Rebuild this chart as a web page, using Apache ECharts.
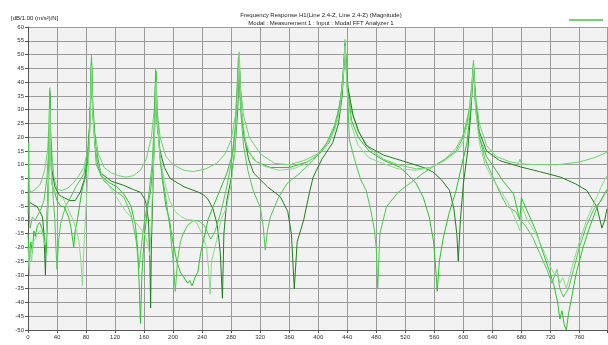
<!DOCTYPE html>
<html>
<head>
<meta charset="utf-8">
<script src="https://cdn.jsdelivr.net/npm/echarts@6/dist/echarts.min.js"></script>
<style>
  html, body { margin: 0; padding: 0; background: #fff; }
  #chart { width: 608px; height: 345px; }
</style>
</head>
<body>
<div id="chart"></div>
<script>
// axis ticks
const xTicks = [0, 40, 80, 120, 160, 200, 240, 280, 320, 360, 400, 440, 480, 520, 560, 600, 640, 680, 720, 760];
const yTicks = [60, 55, 50, 45, 40, 35, 30, 25, 20, 15, 10, 5, 0, -5, -10, -15, -20, -25, -30, -35, -40, -45, -50];

// [Hz, dB]
const curveA = [[0,2],[4,0],[10,1],[17,3],[23,8],[27,15],[29,25],[30,38],[31,25],[33,14],[36,5],[40,1],[47,0.7],[55,1.5],[63,3.5],[70,6],[77,9],[82,15],[85,25],[86.5,40],[87.5,50],[89,35],[92,22],[97,14],[105,9],[115,7],[125,6],[135,5.5],[145,6],[155,8],[163,12],[170,20],[174,30],[176,45],[178,30],[182,20],[190,13],[200,10],[215,8],[228,7.5],[245,8.5],[260,10.5],[272,14],[280,19],[286,28],[289,40],[291,51],[293,38],[297,28],[305,20],[320,14],[340,10.5],[360,10],[380,11.5],[400,14],[415,19],[425,25],[432,35],[435,45],[437,55.5],[440,40],[445,30],[455,22],[470,16],[490,12],[510,10],[535,8.5],[555,9],[575,12],[590,16],[600,21],[608,30],[612,40],[614,48],[617,35],[622,25],[632,17],[645,13],[665,11],[676,10.5],[678,12],[680,10.3],[700,10],[730,10],[760,11],[780,12.5],[798,14.5]];

const curveB = [[0,-3],[4,-4],[13,-5.3],[20,-9],[22,-15],[24,-30],[26,-10],[28,5],[29.5,20],[30,36],[31,20],[33,8],[37,2],[43,-1],[50,-2],[58,-3],[65,-3],[72,0],[78,5],[83,15],[86,30],[87.5,47],[89,30],[93,17],[100,7],[115,4],[132,2.5],[145,1],[155,0],[162,-3],[166,-10],[168,-25],[169,-42],[170,-20],[172,0],[174,20],[176,42],[178,25],[182,15],[188,9],[196,5],[215,2],[235,0],[242,-1],[248,-2.5],[255,-6],[261,-12],[265,-22],[268,-38.5],[270,-15],[274,-3],[280,5],[285,15],[289,30],[291,48],[294,30],[298,20],[304,12],[311,7],[330,2],[348,-1.7],[358,-7],[363,-15],[367,-35],[371,-18],[380,-10],[388,0],[393,5.5],[405,12],[420,18],[428,25],[433,35],[437,52],[441,38],[448,28],[456,22],[466,17],[490,13.5],[521,11],[545,9],[558,7.4],[570,4.5],[581,0.7],[587,-6],[591,-15],[593,-25],[596,-10],[600,3],[606,15],[610,28],[614,45],[617,32],[622,22],[632,15],[650,11.5],[679,9.2],[705,7.5],[734,5.5],[755,3],[770,0.7],[784,-5.3],[791,-13],[795,-10],[798,-6]];

const curveC = [[0,-15],[2,-25],[4,-18],[6,-22],[8,-14],[10,-16],[13,-12],[16,-11],[19,-13],[22,-16],[25,-22],[27,-10],[29,10],[30,35],[31,15],[33,3],[36,0.7],[40,-3],[45,-5],[50,-5.3],[56,-9],[59,-12.6],[62,-18],[63,-20],[65,-14],[68,-10],[74,0],[80,6.8],[84,15],[86.5,35],[87.5,48],[89,32],[92,18],[96,10],[101,5.7],[112,3.5],[123,1.9],[133,-1],[142,-5],[148,-12],[151,-20],[153.5,-35],[155,-47.6],[157,-30],[160,-17.4],[165,-5],[169,0.7],[173,12],[175.5,30],[176.5,44],[178,28],[182,12],[186,3],[190,-5],[195,-10],[199,-17],[205,-25],[210,-29],[215,-31],[220,-33],[223,-32],[226,-34],[230,-31],[234,-29],[238,-22],[242,-17.4],[248,-10],[255,-5.3],[265,1],[274,6.9],[282,14],[287,25],[290,48],[293,32],[297,22],[303,15],[315,11],[334,9],[360,9],[385,11],[400,13.5],[415,18],[426,26],[433,38],[437,54],[440,38],[446,26],[455,20],[470,15],[490,11.6],[512,9.2],[525,6],[535,3.2],[545,-2],[553,-9],[559,-18],[562,-28],[564,-36],[567,-25],[572,-17],[580,-8],[590,0.7],[598,10],[605,18],[610,30],[614,46],[617,30],[622,20],[632,13],[642,9.2],[655,4],[669,-0.5],[676,-8],[678,-10],[680,-2],[690,-8],[700,-14],[710,-22],[718,-28],[725,-34],[730,-40],[733,-46],[736,-43],[739,-48],[742,-50],[745,-44],[748,-40],[755,-30],[765,-20],[775,-12],[785,-5],[798,1]];

const curveD = [[0,-8],[1,18],[2,-10],[3,-13],[6,-9],[10,-10],[14,-8],[18,-6],[22,-3],[26,5],[28.5,15],[30,37],[31.5,15],[33,5],[35,-3],[37,-10],[38,-17.4],[40,-28],[42,-18],[45,-11.3],[52,-5],[59,-1.7],[66,2],[72,4.5],[77,6.9],[82,13],[85,22],[87.5,49],[89,30],[94,10],[105,4],[120,0.5],[132,-1.7],[142,-8],[149,-17.4],[153,-27.6],[156,-20],[160,-11.3],[166,-2],[171,10],[175,30],[176.5,43],[178,28],[181,16],[185,6],[190,-2],[196,-13.8],[200,-25],[203,-36],[206,-25],[210,-18],[214,-15],[220,-12],[228,-10.2],[236,-10.5],[243,-12],[248,-15],[252,-17],[258,-14],[266,-7],[274,2],[281,12],[286,25],[290,49],[293,30],[297,17],[303,8],[310,1],[316,-3],[320,-5.3],[324,-12],[327,-21],[330,-14],[334,-9],[345,-2],[357,3.2],[375,7],[393,11.6],[410,17],[422,24],[430,32],[435,45],[437,54],[440,38],[443,19],[450,12],[458,5],[466,0.7],[472,-6],[477,-13],[480,-20],[482,-35],[485,-15],[494,-5.3],[510,0],[526,3.2],[545,7],[558,9.2],[575,12],[590,15],[598,19],[605,25],[610,33],[614,47],[617,32],[622,20],[630,12],[640,6],[650,0],[660,-5],[672,-7],[678,-10],[685,-12],[695,-16],[705,-22],[715,-28],[722,-33],[729,-28],[733,-35],[738,-38],[745,-35],[752,-28],[760,-20],[770,-12],[780,-6],[790,-3],[798,1]];

const curveE = [[0,-20],[2,-30],[3,-20],[5,-25],[7,-18],[10,-17],[13,-15],[17,-14],[20,-15],[23,-19],[25,-18],[27,-5],[29,10],[30,30],[31.5,12],[33,3],[36,0],[42,-1],[48,-2],[54,-5.3],[62,-10],[67,-14],[70,-17.4],[73,-25],[75,-34],[77,-20],[80,-5.3],[83,8],[86,28],[87.5,46],[89,30],[92,18],[97,10],[104,5],[115,1],[125,-3],[135,-7],[145,-10],[155,-13],[162,-16],[166,-20],[168,-23],[170,-10],[173,10],[175.5,30],[176.5,40],[178,26],[182,13],[188,4],[195,-3],[203,-7],[212,-9],[220,-10],[226,-10],[232,-11],[240,-15],[246,-20],[249,-28],[251,-37],[253,-25],[260,-17.4],[266,-10],[274,-5.3],[280,3],[285,15],[289,35],[291,49],[294,30],[300,18],[310,12],[325,9.5],[345,8],[365,8.5],[380,10],[398,13.4],[412,17],[423,23],[430,30],[434,40],[437,53],[440,36],[446,24],[455,17],[470,12.5],[489,10.5],[510,8.5],[535,8],[555,9],[575,11.5],[592,15],[600,18.5],[607,26],[611,35],[614,46],[617,30],[622,18],[630,10],[640,5],[650,1],[660,-3],[669,-8],[675,-12],[678,-14],[681,-5],[688,-10],[700,-15],[712,-22],[720,-27],[726,-30],[729,-28],[733,-33],[737,-31],[742,-35],[750,-27],[760,-18],[770,-10],[780,-4],[790,2],[798,6]];

const curves = [
  { name: 'H1', data: curveA, color: '#6fd36f' },
  { name: 'B', data: curveB, color: '#1f7f1f' },
  { name: 'C', data: curveC, color: '#2cc22c' },
  { name: 'D', data: curveD, color: '#52c852' },
  { name: 'E', data: curveE, color: '#8bdc8b' },
];

const chart = echarts.init(document.getElementById('chart'));

const labelStyle = { fontSize: 6, color: '#333', fontFamily: 'Liberation Sans' };

chart.setOption({
  animation: false,
  textStyle: { fontFamily: 'Liberation Sans' },
  title: [
    {
      text: 'Frequency Response H1(Line 2.4-Z, Line 2.4-Z) (Magnitude)',
      subtext: 'Modal : Measurement 1 : Input : Modal FFT Analyzer 1',
      left: 316, top: 7, textAlign: 'center', itemGap: 2,
      textStyle: { fontSize: 6, fontWeight: 'normal', color: '#222' },
      subtextStyle: { fontSize: 6, color: '#222' },
    },
    {
      text: '[dB/1.00 (m/s²)/N]',
      left: 6, top: 10,
      textStyle: { fontSize: 6, fontWeight: 'normal', color: '#222' },
    },
  ],
  legend: {
    data: ['H1'], right: 0, top: 14,
    icon: 'rect', itemWidth: 34, itemHeight: 2,
    formatter: () => '', selectedMode: false,
  },
  grid: {
    left: 28, right: 1, top: 27, bottom: 15,
    outerBoundsMode: 'none', containLabel: false,
    show: true, backgroundColor: '#f2f2f2', borderWidth: 0,
  },
  xAxis: {
    type: 'value', min: 0, max: 798, interval: 40,
    name: '[Hz]', nameLocation: 'middle', nameGap: 10,
    nameTextStyle: { fontSize: 5, color: '#333', padding: [0, 0, 0, 2] },
    axisLine: { show: true, onZero: false, lineStyle: { color: '#555', width: 1 } },
    axisTick: { show: true, length: 3, lineStyle: { color: '#555' } },
    axisLabel: Object.assign({ margin: 4, formatter: v => xTicks.includes(v) ? String(v) : '' }, labelStyle),
    splitLine: { show: true, lineStyle: { color: '#9a9a9a', width: 1 } },
  },
  yAxis: {
    type: 'value', min: -50, max: 60, interval: 5,
    axisLine: { show: true, onZero: false, lineStyle: { color: '#555', width: 1 } },
    axisTick: { show: true, length: 3, lineStyle: { color: '#555' } },
    axisLabel: Object.assign({ margin: 4, formatter: v => yTicks.includes(v) ? String(v) : '' }, labelStyle),
    splitLine: { show: true, lineStyle: { color: '#9a9a9a', width: 1 } },
  },
  series: curves.map(c => ({
    name: c.name,
    type: 'line',
    data: c.data,
    showSymbol: false,
    smooth: false,
    lineStyle: { color: c.color, width: 1 },
    itemStyle: { color: c.color },
  })),
});
</script>
</body>
</html>
